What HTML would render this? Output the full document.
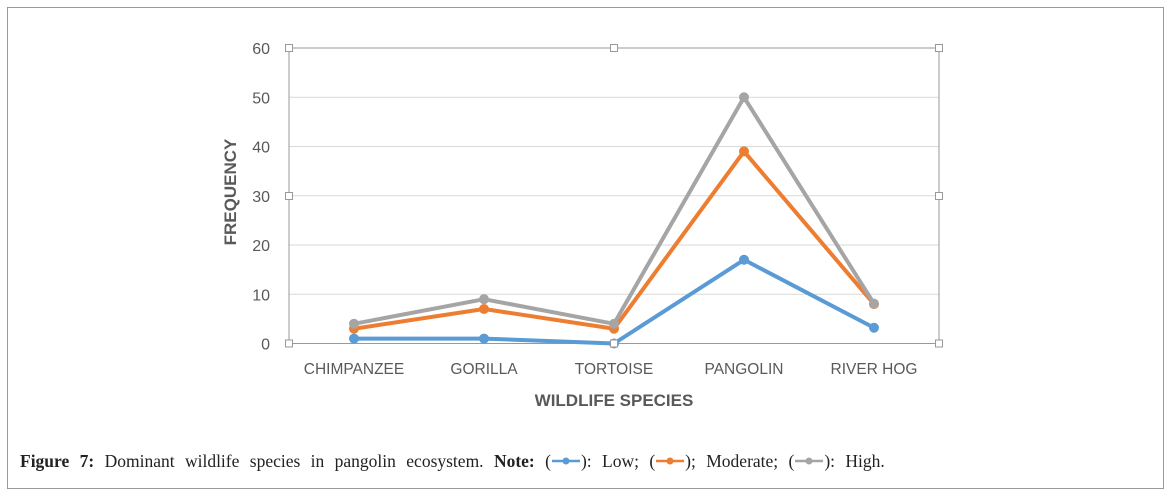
<!DOCTYPE html>
<html><head><meta charset="utf-8"><style>
body{margin:0;background:#fff;width:1172px;height:498px;overflow:hidden}
#fig{position:absolute;left:7px;top:7px;width:1157px;height:482px;border:1px solid #999;box-sizing:border-box}
#cap{position:absolute;left:20px;top:451px;font-family:"Liberation Serif",serif;font-size:17.5px;color:#222;word-spacing:6px;white-space:nowrap}
.lg{display:inline-block;vertical-align:middle;margin-top:-3px}
</style></head><body>
<div id="fig"></div>
<svg id="chart" width="1172" height="498" style="position:absolute;left:0;top:0"></svg>
<div id="cap"><b>Figure 7:</b> Dominant wildlife species in pangolin ecosystem. <b>Note:</b> (<svg class="lg" width="30" height="10"><line x1="1" x2="29" y1="5" y2="5" stroke="#5b9bd5" stroke-width="2.5"/><circle cx="15" cy="5" r="3.5" fill="#5b9bd5"/></svg>): Low; (<svg class="lg" width="30" height="10"><line x1="1" x2="29" y1="5" y2="5" stroke="#ed7d31" stroke-width="2.5"/><circle cx="15" cy="5" r="3.5" fill="#ed7d31"/></svg>); Moderate; (<svg class="lg" width="30" height="10"><line x1="1" x2="29" y1="5" y2="5" stroke="#a5a5a5" stroke-width="2.5"/><circle cx="15" cy="5" r="3.5" fill="#a5a5a5"/></svg>): High.</div>
<script>
const categories=["CHIMPANZEE","GORILLA","TORTOISE","PANGOLIN","RIVER HOG"];
const lowValues=[1,1,0,17,3.2];
const moderateValues=[3,7,3,39,8];
const highValues=[4,9,4,50,8.1];
const yTicks=[0,10,20,30,40,50,60];
const NS="http://www.w3.org/2000/svg";
const svg=document.getElementById('chart');
const L=289,R=939,T=48,B=343.5,yMax=60;
const xs=i=>L+(R-L)/categories.length*(i+0.5);
const ys=v=>B-(B-T)*v/yMax;
function mk(t,a,p){const e=document.createElementNS(NS,t);for(const k in a)e.setAttribute(k,a[k]);(p||svg).appendChild(e);return e;}
yTicks.forEach(t=>{
 const g=mk('line',{x1:L,x2:R,y1:ys(t),y2:ys(t),stroke:t===0?'#999':'#d9d9d9','stroke-width':1});
 
 
 const tx=mk('text',{x:270,y:ys(t)+6,'text-anchor':'end','font-family':'Liberation Sans, sans-serif','font-size':16,fill:'#595959'});
 tx.textContent=t;
 
 
});
const fr=mk('rect',{x:L,y:T,width:R-L,height:B-T,fill:'none',stroke:'#999','stroke-width':1});


categories.forEach((c,i)=>{
 const tx=mk('text',{x:xs(i),y:374,'text-anchor':'middle','font-family':'Liberation Sans, sans-serif','font-size':15.5,fill:'#595959'});
 tx.textContent=c;
 
 
});
const xt=mk('text',{x:614,y:406,'text-anchor':'middle','font-family':'Liberation Sans, sans-serif','font-size':17,'font-weight':'bold',fill:'#595959'});
xt.textContent='WILDLIFE SPECIES';


const yt=mk('text',{x:0,y:0,transform:'translate(236,192) rotate(-90)','text-anchor':'middle','font-family':'Liberation Sans, sans-serif','font-size':17,'font-weight':'bold',fill:'#595959'});
yt.textContent='FREQUENCY';


[[lowValues,'#5b9bd5','low'],[moderateValues,'#ed7d31','moderate'],[highValues,'#a5a5a5','high']].forEach(([vals,col,nm])=>{
 const pl=mk('polyline',{points:vals.map((v,i)=>xs(i)+','+ys(v)).join(' '),fill:'none',stroke:col,'stroke-width':4,'stroke-linejoin':'round'});
 
 
 vals.forEach((v,i)=>{
  const c=mk('circle',{cx:xs(i),cy:ys(v),r:5,fill:col});
  
  
 });
});
[[L,T],[614,T],[R,T],[L,196],[R,196],[L,B],[614,B],[R,B]].forEach(([x,y])=>{
 const h=mk('rect',{x:x-3.5,y:y-3.5,width:7,height:7,fill:'#fff',stroke:'#999'});
 
 
});
</script>
</body></html>
